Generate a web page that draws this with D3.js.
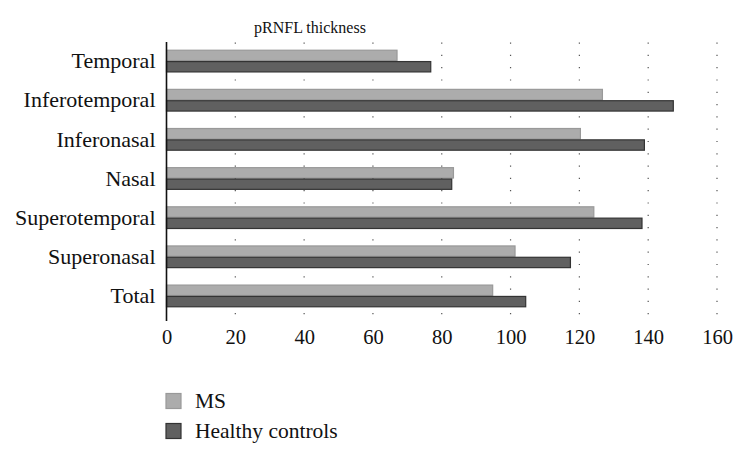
<!DOCTYPE html>
<html><head><meta charset="utf-8">
<script src="https://cdn.jsdelivr.net/npm/d3@7"></script>
<style>body{margin:0;background:#fff}svg{display:block}</style>
</head><body><svg id="c" width="746" height="456"></svg>
<script>
const categories = ["Temporal","Inferotemporal","Inferonasal","Nasal","Superotemporal","Superonasal","Total"];
const msValues = [67.0, 126.7, 120.3, 83.4, 124.2, 101.3, 94.8];
const hcValues = [76.8, 147.3, 138.9, 82.9, 138.2, 117.4, 104.4];
const seriesNames = ["MS","Healthy controls"];
const xTicks = [0,20,40,60,80,100,120,140,160];
const title = "pRNFL thickness";

const FONT = "'Liberation Serif', 'DejaVu Serif', serif";
const svg = d3.select("#c");
const x = d3.scaleLinear().domain([0,160]).range([166.5,717]);
const y = d3.scaleBand().domain(categories).range([41.5,315.5]).paddingInner(0.42).paddingOuter(0.21);
const sub = d3.scaleBand().domain(seriesNames).range([0,y.bandwidth()]);
const fills = ["#acacac","#606060"], strokes = ["#999","#333"];

// grid
svg.append("g").selectAll("line").data(xTicks.filter(d=>d>0)).join("line")
  .attr("x1",d=>x(d)).attr("x2",d=>x(d)).attr("y1",42.5).attr("y2",321)
  .attr("stroke","#555").attr("stroke-width",1.2).attr("stroke-dasharray","1.2,11.1");

// bars
const series = [msValues, hcValues];
series.forEach((vals,si)=>{
  svg.append("g").selectAll("rect").data(categories).join("rect")
    .attr("x",x(0)).attr("y",(d)=>y(d)+sub(seriesNames[si])+0.5)
    .attr("width",(d,i)=>x(vals[i])-x(0)).attr("height",sub.bandwidth()-1)
    .attr("fill",fills[si]).attr("stroke",strokes[si]).attr("stroke-width",1.2);
});

// y axis line
svg.append("line").attr("x1",x(0)).attr("x2",x(0)).attr("y1",42).attr("y2",321)
  .attr("stroke","#111").attr("stroke-width",1.6);

// y labels
const ya = svg.append("g").attr("transform",`translate(${x(0)-11},0)`)
  .call(d3.axisLeft(y).tickSize(0).tickPadding(0));
ya.select(".domain").remove();
ya.selectAll("text").style("font-size","22px").style("font-family",FONT).style("fill","#111").attr("dy","0.33em");

// x axis
const xa = svg.append("g").attr("transform","translate(0,329)")
  .call(d3.axisBottom(x).tickValues(xTicks).tickSize(0).tickPadding(0).tickFormat(d3.format("d")));
xa.select(".domain").remove();
xa.selectAll("text").style("font-size","20.5px").style("font-family",FONT).style("fill","#111").attr("dy","0.72em");

// title
svg.append("text").attr("x",310).attr("y",33).attr("text-anchor","middle")
  .style("font-size","16px").style("font-family",FONT).style("fill","#111").text(title);

// legend
seriesNames.forEach((n,i)=>{
  const gy = 393.5 + i*30;
  svg.append("rect").attr("x",166).attr("y",gy).attr("width",15).attr("height",15)
    .attr("fill",fills[i]).attr("stroke",strokes[i]).attr("stroke-width",1.2);
  svg.append("text").attr("x",195).attr("y",gy+14.5)
    .style("font-size","21.5px").style("font-family",FONT).style("fill","#111").text(n);
});
</script></body></html>
